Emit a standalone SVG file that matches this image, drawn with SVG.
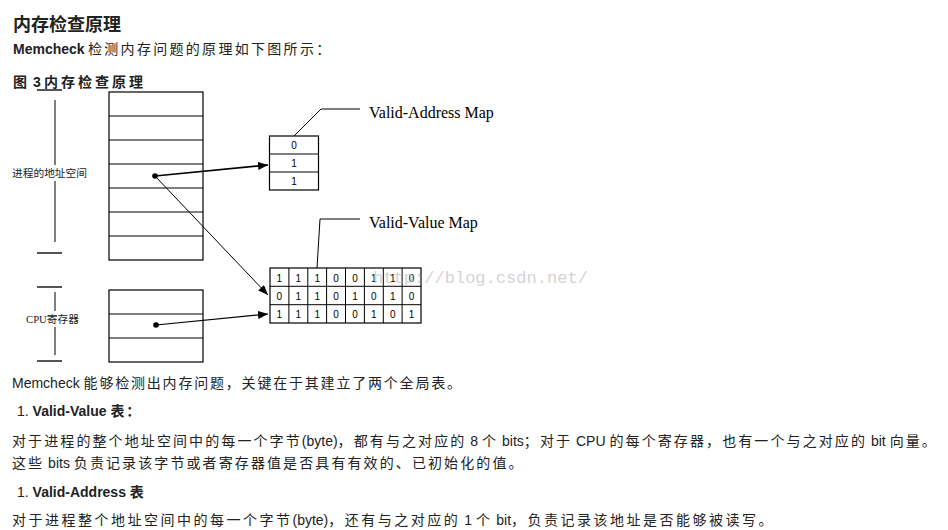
<svg xmlns="http://www.w3.org/2000/svg" width="948" height="530" viewBox="0 0 948 530">
<defs>
<marker id="ah" markerUnits="userSpaceOnUse" markerWidth="10" markerHeight="8" refX="10" refY="4" orient="auto">
<path d="M0,0 L10,4 L0,8 Z" fill="#000"/>
</marker>
<style>
.txt{font-family:"Liberation Sans","Noto Sans CJK SC",sans-serif;fill:#222}
.body{font-size:14px}
.cj{letter-spacing:1.8px}
.cj2{letter-spacing:2.1px}
.cj3{letter-spacing:2.5px}
.b{font-weight:bold}
.box{fill:#fff;stroke:#000;stroke-width:1.2}
.ln{stroke:#000;stroke-width:1;fill:none}
.tick{stroke:#555;stroke-width:2}
.dig{font-family:"Liberation Sans",sans-serif;font-size:10px;fill:#000;text-anchor:middle}
.lbl{font-family:"Liberation Serif","Noto Sans CJK SC",serif;font-size:16px;fill:#000}
.side{font-family:"Liberation Serif","Noto Sans CJK SC",serif;font-size:10.5px;fill:#222}
.con{stroke:#000;fill:none;marker-end:url(#ah)}
</style>
</defs>
<rect width="948" height="530" fill="#fff"/>

<g id="header">
<text class="txt b" x="13" y="31" font-size="18">内存检查原理</text>
<text class="txt b" x="13" y="54" font-size="14">Memcheck</text>
<text class="txt" x="88" y="54" font-size="14" letter-spacing="2.3">检测内存问题的原理如下图所示：</text>
<text class="txt b" x="13" y="87" font-size="14">图<tspan x="33">3</tspan><tspan x="44" letter-spacing="3">内存检查原理</tspan></text>
</g>

<g id="address-space">
<rect class="box" x="109" y="92" width="94" height="168"/>
<path class="ln" d="M109,116H203M109,140H203M109,164H203M109,188H203M109,212H203M109,236H203"/>
<line class="tick" x1="37" y1="90" x2="62" y2="90"/>
<line class="tick" x1="37" y1="253" x2="62" y2="253"/>
<line class="ln" x1="55" y1="100" x2="55" y2="242"/>
<rect x="11" y="165" width="77" height="16" fill="#fff"/>
<text class="side" x="12" y="177" textLength="75" lengthAdjust="spacingAndGlyphs">进程的地址空间</text>
</g>

<g id="cpu-registers">
<rect class="box" x="109" y="290" width="94" height="72"/>
<path class="ln" d="M109,314H203M109,338H203"/>
<line class="tick" x1="37" y1="287" x2="62" y2="287"/>
<line class="tick" x1="37" y1="361" x2="62" y2="361"/>
<line class="ln" x1="55" y1="292" x2="55" y2="355"/>
<rect x="25" y="311" width="56" height="16" fill="#fff"/>
<text class="side" x="26" y="323" textLength="53" lengthAdjust="spacingAndGlyphs">CPU寄存器</text>
</g>

<g id="valid-address-map">
<rect class="box" x="269.5" y="136" width="49" height="54"/>
<path class="ln" d="M269.5,154H318.5M269.5,172H318.5"/>
<text class="dig" x="294" y="149">0</text>
<text class="dig" x="294" y="167">1</text>
<text class="dig" x="294" y="185">1</text>
<polyline class="ln" points="294,136 321,109 360,109"/>
<text class="lbl" x="369" y="118">Valid-Address Map</text>
</g>

<g id="valid-value-map">
<rect class="box" x="270" y="268" width="151" height="55"/>
<path class="ln" d="M270,286.3H421M270,304.7H421M288.9,268V323M307.8,268V323M326.6,268V323M345.5,268V323M364.4,268V323M383.3,268V323M402.1,268V323"/>
<g class="dig">
<text x="279.4" y="281.5">1</text><text x="298.3" y="281.5">1</text><text x="317.2" y="281.5">1</text><text x="336.1" y="281.5">0</text><text x="355" y="281.5">0</text><text x="373.8" y="281.5">1</text><text x="392.7" y="281.5">1</text><text x="411.6" y="281.5">0</text>
<text x="279.4" y="299.8">0</text><text x="298.3" y="299.8">1</text><text x="317.2" y="299.8">1</text><text x="336.1" y="299.8">0</text><text x="355" y="299.8">1</text><text x="373.8" y="299.8">0</text><text x="392.7" y="299.8">1</text><text x="411.6" y="299.8">0</text>
<text x="279.4" y="318.2">1</text><text x="298.3" y="318.2">1</text><text x="317.2" y="318.2">1</text><text x="336.1" y="318.2">0</text><text x="355" y="318.2">0</text><text x="373.8" y="318.2">1</text><text x="392.7" y="318.2">0</text><text x="411.6" y="318.2">1</text>
</g>
<polyline class="ln" points="317,268 320,219 360,219"/>
<text class="lbl" x="369" y="228">Valid-Value Map</text>
</g>

<g id="connectors">
<circle cx="155" cy="176" r="2.8" fill="#000"/>
<circle cx="156" cy="325" r="2.8" fill="#000"/>
<line class="con" x1="155" y1="176" x2="268" y2="165" stroke-width="1.6"/>
<line class="con" x1="155" y1="176" x2="268" y2="295" stroke-width="1"/>
<line class="con" x1="156" y1="325" x2="268" y2="314" stroke-width="1.2"/>
</g>

<g id="watermark">
<text x="373" y="283" font-family="Liberation Mono,monospace" font-size="17" fill="#c8c8c8" fill-opacity="0.8" textLength="215" lengthAdjust="spacingAndGlyphs">http://blog.csdn.net/</text>
</g>

<g id="body">
<text class="txt body" x="12" y="388">Memcheck <tspan class="cj">能够检测出内存问题，关键在于其建立了两个全局表。</tspan></text>
<text class="txt body" x="17" y="416">1. <tspan class="b">Valid-Value <tspan class="cj">表：</tspan></tspan></text>
<text class="txt body" x="12" y="446"><tspan class="cj2">对于进程的整个地址空间中的每一个字节</tspan>(byte)<tspan class="cj2">，都有与之对应的</tspan> 8 <tspan class="cj2">个</tspan> bits<tspan class="cj2">；对于</tspan> CPU <tspan class="cj2">的每个寄存器，也有一个与之对应的</tspan> bit <tspan class="cj2">向量。</tspan></text>
<text class="txt body" x="12" y="468"><tspan class="cj2">这些</tspan> bits <tspan class="cj2">负责记录该字节或者寄存器值是否具有有效的、已初始化的值。</tspan></text>
<text class="txt body" x="17" y="497">1. <tspan class="b">Valid-Address <tspan class="cj">表</tspan></tspan></text>
<text class="txt body" x="12" y="525"><tspan class="cj3">对于进程整个地址空间中的每一个字节</tspan>(byte)<tspan class="cj3">，还有与之对应的</tspan> 1 <tspan class="cj3">个</tspan> bit<tspan class="cj3">，负责记录该地址是否能够被读写。</tspan></text>
</g>
</svg>
